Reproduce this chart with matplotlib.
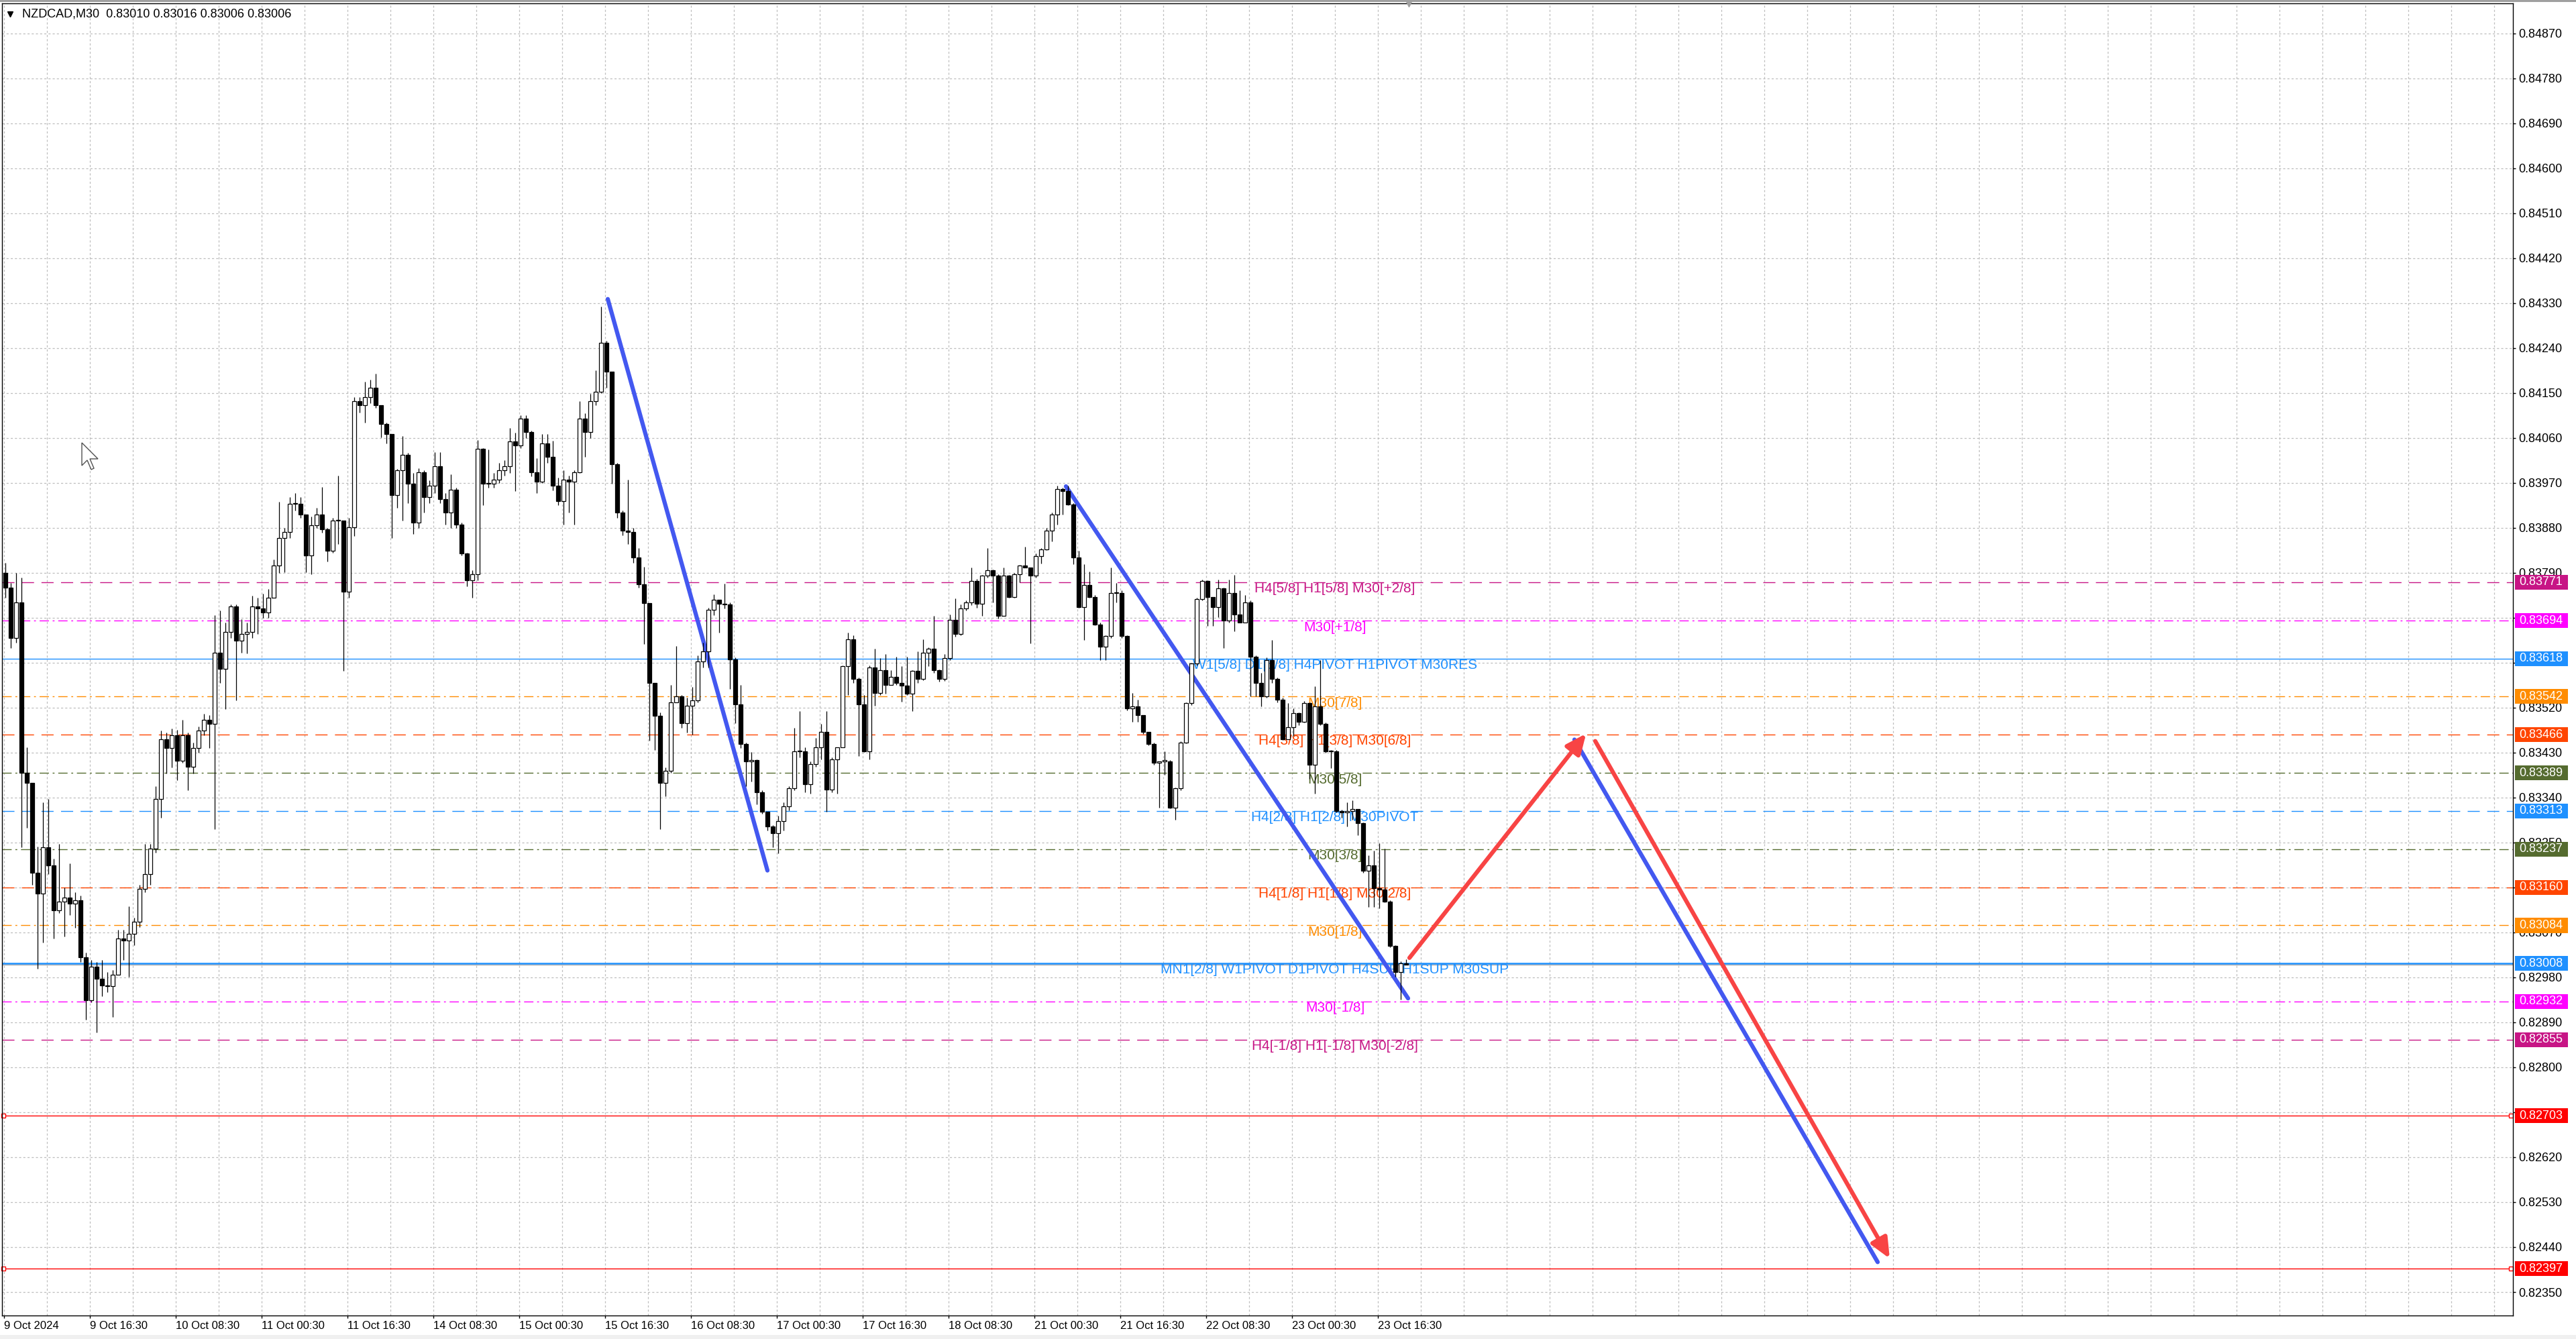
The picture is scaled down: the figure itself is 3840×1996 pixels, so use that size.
import numpy as np
import matplotlib
matplotlib.use("Agg")
import matplotlib.pyplot as plt
import matplotlib.transforms as mtransforms
from matplotlib.patches import Rectangle, Polygon

plt.rcParams['font.family'] = ['Liberation Sans', 'DejaVu Sans']

header = "NZDCAD,M30  0.83010 0.83016 0.83006 0.83006"

# hourly candles, values are points above 0.8 (3760 -> 0.83760)
first_open = 3790
closes = [
    3760, 3660, 3730, 3390, 3370, 3190, 3148, 3240, 3204, 3114,
    3131, 3140, 3127, 3135, 3020, 2934, 3002, 2977, 2964, 2962,
    2985, 3058, 3054, 3067, 3092, 3157, 3187, 3238, 3337, 3457,
    3439, 3465, 3414, 3465, 3401, 3439, 3474, 3495, 3487, 3630,
    3598, 3671, 3722, 3654, 3667, 3671, 3722, 3718, 3710, 3740,
    3804, 3859, 3872, 3928, 3928, 3907, 3825, 3885, 3907, 3877,
    3834, 3894, 3894, 3752, 3881, 4134, 4126, 4142, 4161, 4126,
    4088, 4068, 3945, 3995, 4026, 3968, 3891, 3991, 3941, 3964,
    4003, 3937, 3910, 3956, 3887, 3829, 3775, 3787, 4038, 3968,
    3968, 3976, 3995, 4003, 4053, 4045, 4099, 4072, 3991, 3972,
    4049, 4022, 3964, 3933, 3976, 3972, 3991, 4099, 4072, 4134,
    4153, 4250, 4192, 4007, 3910, 3875, 3872, 3821, 3767, 3729,
    3570, 3504, 3370, 3393, 3531, 3543, 3489, 3524, 3535, 3613,
    3632, 3716, 3736, 3728, 3726, 3617, 3526, 3447, 3412, 3415,
    3351, 3311, 3282, 3269, 3293, 3322, 3359, 3433, 3433, 3367,
    3407, 3441, 3471, 3356, 3417, 3441, 3603, 3657, 3577, 3526,
    3433, 3601, 3550, 3595, 3566, 3582, 3569, 3564, 3548, 3593,
    3577, 3630, 3638, 3595, 3577, 3619, 3696, 3667, 3718, 3731,
    3773, 3728, 3784, 3795, 3784, 3704, 3784, 3742, 3787, 3805,
    3800, 3784, 3824, 3837, 3874, 3906, 3958, 3954, 3927, 3821,
    3721, 3766, 3742, 3687, 3642, 3663, 3749, 3749, 3663, 3519,
    3522, 3505, 3471, 3447, 3409, 3413, 3413, 3320, 3358, 3450,
    3529, 3608, 3738, 3773, 3742, 3721, 3759, 3694, 3749, 3707,
    3690, 3731, 3622, 3570, 3543, 3615, 3577, 3536, 3457, 3481,
    3509, 3492, 3529, 3406, 3522, 3488, 3433, 3433, 3313, 3310,
    3313, 3317, 3289, 3193, 3204, 3159, 3156, 3132, 3043, 2991,
    3008, 3006,
]
highs = [
    3810, 3770, 3790, 3780, 3440, 3370, 3242, 3330, 3337, 3217,
    3247, 3160, 3208, 3150, 3144, 3030, 3015, 3011, 3015, 2990,
    2995, 3075, 3075, 3122, 3100, 3165, 3247, 3247, 3362, 3474,
    3470, 3478, 3475, 3495, 3470, 3450, 3482, 3508, 3505, 3705,
    3714, 3690, 3727, 3727, 3697, 3690, 3744, 3740, 3748, 3757,
    3817, 3932, 3880, 3941, 3950, 3941, 3907, 3902, 3920, 3962,
    3880, 3900, 3984, 3880, 3900, 4142, 4142, 4172, 4176, 4188,
    4126, 4090, 4022, 3998, 4064, 4030, 3990, 3999, 3995, 3975,
    4031, 4031, 3950, 3987, 3960, 3890, 3830, 3795, 4056, 4040,
    4037, 3990, 4010, 4015, 4080, 4070, 4106, 4106, 4075, 4020,
    4068, 4068, 4055, 3980, 3995, 3985, 3995, 4134, 4110, 4149,
    4196, 4323, 4255, 4192, 4010, 3915, 3976, 3880, 3840, 3802,
    3729, 3520, 3510, 3400, 3566, 3643, 3545, 3540, 3562, 3625,
    3650, 3720, 3747, 3736, 3768, 3730, 3620, 3566, 3450, 3431,
    3416, 3355, 3312, 3285, 3303, 3330, 3362, 3479, 3513, 3441,
    3412, 3460, 3487, 3513, 3420, 3441, 3605, 3670, 3665, 3580,
    3545, 3605, 3638, 3619, 3627, 3595, 3622, 3603, 3622, 3595,
    3633, 3657, 3641, 3704, 3597, 3627, 3707, 3739, 3726, 3735,
    3800, 3778, 3786, 3840, 3797, 3787, 3800, 3786, 3790, 3806,
    3842, 3800, 3829, 3840, 3880, 3910, 3965, 3960, 3965, 3930,
    3834, 3807, 3793, 3745, 3690, 3665, 3800, 3769, 3755, 3665,
    3550, 3536, 3505, 3472, 3450, 3413, 3433, 3415, 3360, 3452,
    3530, 3610, 3740, 3776, 3775, 3740, 3776, 3760, 3776, 3786,
    3755, 3745, 3735, 3625, 3590, 3620, 3656, 3580, 3540, 3529,
    3519, 3510, 3533, 3530, 3563, 3615, 3490, 3435, 3435, 3315,
    3330, 3334, 3315, 3290, 3224, 3234, 3248, 3238, 3135, 3045,
    3012, 3016,
]
lows = [
    3740, 3640, 3650, 3240, 3280, 3165, 2998, 3050, 3187, 3058,
    3109, 3062, 3105, 3079, 3011, 2895, 2930, 2870, 2942, 2950,
    2900, 2985, 3015, 2981, 3045, 3080, 3150, 3165, 3230, 3300,
    3388, 3400, 3375, 3410, 3354, 3388, 3430, 3465, 3439, 3277,
    3570, 3517, 3660, 3534, 3630, 3628, 3660, 3667, 3700, 3700,
    3740, 3790, 3791, 3860, 3915, 3900, 3791, 3787, 3880, 3870,
    3812, 3830, 3847, 3594, 3740, 3864, 4111, 4091, 4130, 4120,
    4061, 4049, 3860, 3920, 3895, 3929, 3868, 3880, 3910, 3930,
    3950, 3930, 3887, 3880, 3880, 3825, 3763, 3740, 3775, 3926,
    3960, 3960, 3970, 3985, 3990, 3953, 4040, 4060, 3983, 3949,
    3970, 4010, 3955, 3925, 3887, 3910, 3887, 3990, 4022, 4060,
    4125, 4150, 4161, 3968, 3900, 3865, 3848, 3810, 3760, 3648,
    3454, 3435, 3277, 3343, 3390, 3530, 3480, 3470, 3466, 3530,
    3600, 3600, 3705, 3670, 3718, 3558, 3489, 3439, 3362, 3372,
    3327, 3308, 3274, 3240, 3229, 3274, 3314, 3355, 3420, 3351,
    3348, 3401, 3417, 3311, 3350, 3348, 3440, 3545, 3570, 3423,
    3431, 3417, 3524, 3545, 3548, 3565, 3565, 3532, 3545, 3513,
    3570, 3575, 3603, 3590, 3572, 3574, 3615, 3662, 3665, 3715,
    3725, 3720, 3704, 3780, 3731, 3699, 3704, 3740, 3740, 3771,
    3800, 3649, 3780, 3808, 3835, 3853, 3886, 3906, 3925, 3807,
    3720, 3656, 3740, 3685, 3615, 3615, 3660, 3731, 3660, 3515,
    3492, 3492, 3468, 3445, 3405, 3320, 3385, 3318, 3296, 3355,
    3448, 3525, 3605, 3735, 3683, 3683, 3701, 3639, 3690, 3673,
    3690, 3690, 3543, 3543, 3522, 3540, 3570, 3530, 3455, 3457,
    3464, 3485, 3490, 3378, 3348, 3485, 3430, 3399, 3310, 3300,
    3282, 3296, 3265, 3190, 3121, 3121, 3118, 3130, 3040, 2981,
    2936, 3006,
]

# level lines (price, colour, style, text)
level_prices = [0.83771, 0.83694, 0.83618, 0.83542, 0.83466, 0.83389, 0.83313,
                0.83237, 0.83160, 0.83084, 0.83008, 0.82932, 0.82855]
level_colors = ['#C71585', '#FF00FF', '#1E90FF', '#FF8C00', '#FF4500', '#556B2F', '#1E90FF',
                '#556B2F', '#FF4500', '#FF8C00', '#1E90FF', '#FF00FF', '#C71585']
level_styles = ['dash', 'dashdot', 'solid', 'dashdot', 'dash', 'dashdot', 'dash',
                'dashdot', 'dash', 'dashdot', 'thick', 'dashdot', 'dash']
level_texts = ['H4[5/8] H1[5/8] M30[+2/8]', 'M30[+1/8]',
               'W1[5/8] D1[5/8] H4PIVOT H1PIVOT M30RES', 'M30[7/8]',
               'H4[3/8] H1[3/8] M30[6/8]', 'M30[5/8]', 'H4[2/8] H1[2/8] M30PIVOT',
               'M30[3/8]', 'H4[1/8] H1[1/8] M30[2/8]', 'M30[1/8]',
               'MN1[2/8] W1PIVOT D1PIVOT H4SUP H1SUP M30SUP', 'M30[-1/8]',
               'H4[-1/8] H1[-1/8] M30[-2/8]']
red_levels = [0.82703, 0.82397]
bid = 0.83006

x_tick_bars = list(range(0, 513, 32))
x_tick_labels = ['9 Oct 2024', '9 Oct 16:30', '10 Oct 08:30', '11 Oct 00:30', '11 Oct 16:30',
                 '14 Oct 08:30', '15 Oct 00:30', '15 Oct 16:30', '16 Oct 08:30', '17 Oct 00:30',
                 '17 Oct 16:30', '18 Oct 08:30', '21 Oct 00:30', '21 Oct 16:30', '22 Oct 08:30',
                 '23 Oct 00:30', '23 Oct 16:30']
y_ticks = [0.82350 + 0.0009 * k for k in range(29)]

# drawn trend lines, (bar, price) pairs
blue_lines = [((225.0, 0.84338), (284.5, 0.83194)),
              ((395.75, 0.83963), (523.25, 0.82938)),
              ((585.25, 0.83456), (698.25, 0.82410))]
red_arrows = [((523.75, 0.83019), (589.6, 0.83468)),
              ((593.0, 0.83453), (702.75, 0.82417))]

fig = plt.figure(figsize=(38.4, 19.96), dpi=100)
ax = fig.add_axes([3 / 3840, 35 / 1996, 3743 / 3840, 1956 / 1996])
ax.set_xlim(-0.75, 935)
ax.set_ylim(0.82303, 0.84930)

# grid
grid_col = '#BEBEBE'
for gx in range(0, 935, 16):
    ax.axvline(gx, color=grid_col, lw=0.9, ls=(0, (2.5, 2.5)), zorder=0.5)
for gy in y_ticks:
    ax.axhline(gy, color=grid_col, lw=0.9, ls=(0, (2.5, 2.5)), zorder=0.5)

# levels
styles = {'dash': dict(ls=(0, (13, 8)), lw=1.0), 'dashdot': dict(ls=(0, (10, 4, 2, 4)), lw=1.0),
          'solid': dict(ls='-', lw=1.0), 'thick': dict(ls='-', lw=1.8)}
ax.axhline(bid, color='#A9A9A9', lw=1.0, zorder=0.9)
for p, col, st, txt in zip(level_prices, level_colors, level_styles, level_texts):
    ax.axhline(p, color=col, zorder=1, **styles[st])
    ax.annotate(txt, (496, p), xytext=(0, -7), textcoords='offset points', ha='center',
                va='center', color=col, fontsize=15, zorder=1.5)
for p in red_levels:
    ax.axhline(p, color='#FF0000', lw=1.0, zorder=1)
    ax.plot([-0.3, 934.3], [p, p], ls='none', marker='s', ms=4, mfc='white', mec='#FF0000',
            mew=1, zorder=1.2, clip_on=False)

# candles
c = 0.8 + np.array(closes) / 1e5
o = np.r_[0.8 + first_open / 1e5, c[:-1]]
h = np.maximum(0.8 + np.array(highs) / 1e5, np.maximum(o, c))
l = np.minimum(0.8 + np.array(lows) / 1e5, np.minimum(o, c))
x = np.arange(len(c)) * 2 + 0.5
up = c >= o
body = np.maximum(np.abs(c - o), 0.000015)
ax.vlines(x, l, h, color='black', lw=0.9, zorder=2)
ax.bar(x[up], body[up], bottom=o[up], width=1.35, facecolor='white', edgecolor='black',
       lw=0.9, zorder=3)
ax.bar(x[~up], body[~up], bottom=c[~up], width=1.35, facecolor='black', edgecolor='black',
       lw=0.9, zorder=3)

# trend lines and arrows
for (x0, y0), (x1, y1) in blue_lines:
    ax.plot([x0, x1], [y0, y1], color='#4358F0', lw=4.5, solid_capstyle='round', zorder=1.8)
for start, end in red_arrows:
    ax.annotate('', xy=end, xytext=start, zorder=1.8,
                arrowprops=dict(arrowstyle='-|>,head_length=0.9,head_width=0.4',
                                color='#F84444', lw=4.5, mutation_scale=20,
                                shrinkA=0, shrinkB=0))

# axes styling; a scale label sitting right under a price box is not shown
box_prices = level_prices + red_levels
box_colors = level_colors + ['#FF0000', '#FF0000']
ax.yaxis.tick_right()
ax.set_yticks(y_ticks)
ax.set_yticklabels(['' if min(abs(v - b) for b in box_prices) < 0.0001 else f'{v:.5f}'
                    for v in y_ticks])
ax.set_xticks(x_tick_bars)
ax.set_xticklabels(x_tick_labels)
for lab in ax.get_xticklabels():
    lab.set_horizontalalignment('left')
ax.tick_params(axis='y', direction='out', length=3, width=1, pad=3, labelsize=13)
ax.tick_params(axis='x', direction='out', length=3, width=1, pad=3, labelsize=12)
for sp in ax.spines.values():
    sp.set_color('black')
    sp.set_linewidth(1.0)

# price boxes on the right scale
trans = mtransforms.blended_transform_factory(ax.transAxes, ax.transData)
for p, col in zip(box_prices, box_colors):
    ax.add_patch(Rectangle((1.0008, p - 0.000148), 0.0211, 0.000296, transform=trans,
                           facecolor=col, edgecolor='none', clip_on=False, zorder=5))
    ax.text(1.0024, p, f'{p:.5f}', transform=trans, color='white', fontsize=13,
            va='center', ha='left', clip_on=False, zorder=6)

# header
ax.plot([0.0031], [0.9918], marker='v', color='black', ms=6, transform=ax.transAxes,
        clip_on=False)
ax.text(0.008, 0.9918, header, transform=ax.transAxes, fontsize=13, va='center', ha='left')
ax.plot([523.5], [0.84930], marker='v', color='#A0A0A0', ms=7, clip_on=False, zorder=6)

# mouse pointer left on the chart
tip_x, tip_y = 122, 1996 - 660
arrow_shape = [(0, 0), (0, -34), (8, -26), (14, -40), (18, -38), (12, -24), (24, -24)]
fig.patches.append(Polygon([(tip_x + dx, tip_y + dy) for dx, dy in arrow_shape], closed=True,
                           facecolor='white', edgecolor='#505050', lw=1.0,
                           transform=mtransforms.IdentityTransform()))

fig.patches.append(Rectangle((0, 1 - 3 / 1996), 1, 3 / 1996, transform=fig.transFigure,
                             facecolor='#A0A0A0', edgecolor='none'))
fig.patches.append(Rectangle((0, 0), 1, 6 / 1996, transform=fig.transFigure,
                             facecolor='#F0F0F0', edgecolor='none'))

fig.savefig('out.png', dpi=100)
